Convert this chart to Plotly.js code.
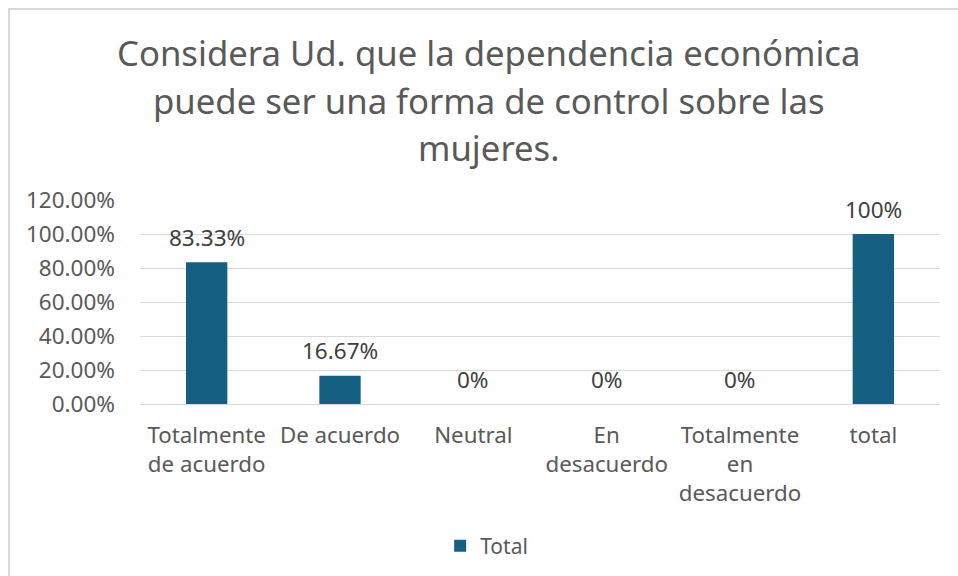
<!DOCTYPE html>
<html>
<head>
<meta charset="utf-8">
<script src="https://cdn.plot.ly/plotly-3.0.1.min.js"></script>
<style>
  body { margin: 0; padding: 0; background: #ffffff; }
  #chart { position: absolute; left: 0; top: 0; width: 958px; height: 576px; }
  #frame { position: absolute; left: 8px; top: 8px; width: 980px; height: 600px;
           border: 2px solid #d9d9d9; pointer-events: none; box-sizing: border-box; }
</style>
</head>
<body>
<div id="chart"></div>
<div id="frame"></div>
<script>
const categories = ["Totalmente<br>de acuerdo", "De acuerdo", "Neutral", "En<br>desacuerdo", "Totalmente<br>en<br>desacuerdo", "total"];
const values = [0.8333, 0.1667, 0, 0, 0, 1.0];
const valueLabels = ["83.33%", "16.67%", "0%", "0%", "0%", "100%"];
const seriesName = "Total";
const yTickValues = [0, 0.2, 0.4, 0.6, 0.8, 1.0, 1.2];
const titleLines = ["Considera Ud. que la dependencia económica", "puede ser una forma de control sobre las", "mujeres."];

const fontFamily = "'Noto Sans', 'Open Sans', sans-serif";
const grey = "#595959";

const trace = {
  type: "bar",
  x: categories,
  y: values,
  name: seriesName,
  marker: { color: "#156082" },
  width: 0.31,
  showlegend: true,
  hoverinfo: "x+y"
};

// data labels above each bar
const labelAnnotations = categories.map((c, i) => ({
  x: c,
  y: values[i],
  xref: "x",
  yref: "y",
  text: valueLabels[i],
  showarrow: false,
  xanchor: "center",
  yanchor: "middle",
  yshift: 25,
  font: { family: fontFamily, size: 22.5, color: "#404040" }
}));

// title lines (Excel-like line spacing)
const titleY = [1.725, 1.49, 1.255];
const titleAnnotations = titleLines.map((t, i) => ({
  x: 0.436,
  y: titleY[i],
  xref: "paper",
  yref: "paper",
  text: t,
  showarrow: false,
  xanchor: "center",
  yanchor: "middle",
  font: { family: fontFamily, size: 34.7, color: grey }
}));

const layout = {
  width: 958,
  height: 576,
  paper_bgcolor: "#ffffff",
  plot_bgcolor: "#ffffff",
  margin: { l: 140, r: 18, t: 200, b: 172 },
  font: { family: fontFamily, color: grey, size: 22 },
  xaxis: {
    type: "category",
    tickfont: { family: fontFamily, size: 22.3, color: grey },
    showgrid: false,
    showline: true,
    linecolor: "#d9d9d9",
    linewidth: 1,
    ticks: "",
    ticklabelstandoff: 11,
    fixedrange: true
  },
  yaxis: {
    range: [0, 1.2],
    tickvals: yTickValues,
    tickformat: ".2%",
    tickfont: { family: fontFamily, size: 22.5, color: grey },
    showgrid: true,
    gridcolor: "#d9d9d9",
    gridwidth: 1,
    zeroline: false,
    showline: false,
    ticks: "",
    ticklabelstandoff: 24,
    fixedrange: true
  },
  annotations: titleAnnotations.concat(labelAnnotations),
  showlegend: true,
  legend: {
    orientation: "h",
    x: 0.508,
    xref: "container",
    xanchor: "center",
    y: 0.052,
    yref: "container",
    yanchor: "middle",
    font: { family: fontFamily, size: 21, color: grey },
    itemwidth: 30
  },
  bargap: 0.69
};

Plotly.newPlot("chart", [trace], layout, { displayModeBar: false, responsive: false });
</script>
</body>
</html>
